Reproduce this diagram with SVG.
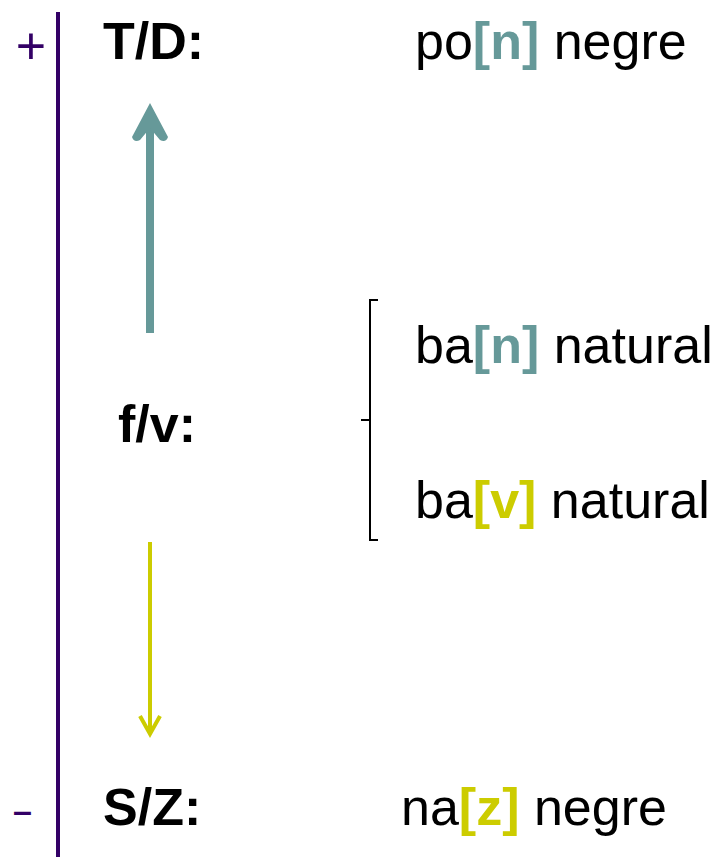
<svg xmlns="http://www.w3.org/2000/svg" width="726" height="857" viewBox="0 0 726 857">
<style>
text{font-family:"Liberation Sans",Arial,sans-serif;font-size:52px;fill:#000}
.b{font-weight:bold}
.t{fill:#669999;font-weight:bold}
.y{fill:#CCCC00;font-weight:bold}
.p{fill:#330066}
</style>
<rect width="726" height="857" fill="#fff"/>
<g id="axis">
<line x1="58" y1="12" x2="58" y2="857" stroke="#330066" stroke-width="4"/>
<text class="p" x="31" y="64" text-anchor="middle">+</text>
<text class="p b" x="13" y="822" style="font-size:34px">–</text>
</g>
<g id="td">
<text class="b" x="103" y="59">T/D:</text>
<text x="415" y="59">po<tspan class="t">[n]</tspan> negre</text>
</g>
<g id="fv">
<text class="b" x="118" y="442">f/v:</text>
</g>
<g id="sz">
<text class="b" x="103" y="825">S/Z:</text>
<text x="401" y="825">na<tspan class="y">[z]</tspan> negre</text>
</g>
<g id="examples">
<text x="415" y="363">ba<tspan class="t">[n]</tspan> natural</text>
<text x="415" y="518">ba<tspan class="y">[v]</tspan> natural</text>
</g>
<g id="connectors">
<line x1="150" y1="333" x2="150" y2="128" stroke="#669999" stroke-width="8"/>
<path d="M150 103 L168 137 Q166 143 160 140 L150 128 L140 140 Q134 143 132 137 Z" fill="#669999"/>
<line x1="150" y1="542" x2="150" y2="733" stroke="#CCCC00" stroke-width="4"/>
<polyline points="140,716 150,734 160,716" fill="none" stroke="#CCCC00" stroke-width="4"/>
<path d="M378 300 L370 300 L370 540 L378 540 M361 420 L370 420" fill="none" stroke="#000" stroke-width="2"/>
</g>
</svg>
